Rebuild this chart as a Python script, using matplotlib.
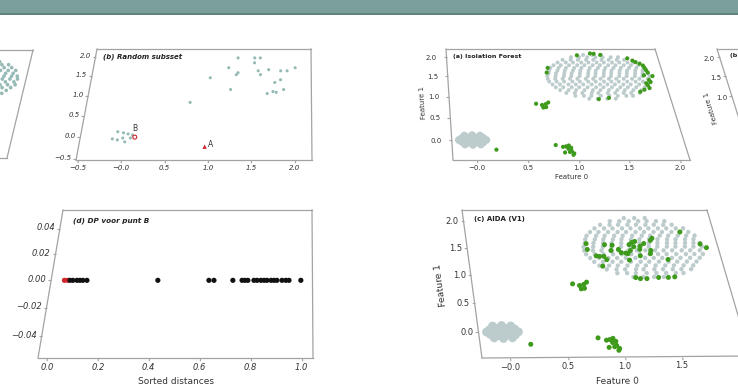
import numpy as np
import matplotlib
matplotlib.use("Agg")
import matplotlib.pyplot as plt
from matplotlib.transforms import Transform
from matplotlib.patches import Rectangle
import mpl_toolkits.axisartist.floating_axes as floating_axes
from mpl_toolkits.axisartist.grid_finder import FixedLocator, DictFormatter

W, H = 738, 392

# ---------------- data ----------------
# large disc of inliers (rows: y value, x values)
disc_rows_y = [0.95, 1.02, 1.09, 1.16, 1.23, 1.30, 1.37, 1.44, 1.51, 1.58,
               1.65, 1.72, 1.79, 1.86, 1.93, 2.00, 2.06]
disc_rows_x = [
    [1.24, 1.33, 1.43, 1.52],
    [1.10, 1.19, 1.27, 1.37, 1.46, 1.55, 1.64, 1.71],
    [1.01, 1.10, 1.18, 1.28, 1.35, 1.45, 1.53, 1.62, 1.70, 1.79],
    [0.95, 1.04, 1.12, 1.21, 1.30, 1.38, 1.47, 1.56, 1.64, 1.73, 1.82],
    [0.91, 0.99, 1.08, 1.16, 1.25, 1.34, 1.42, 1.51, 1.60, 1.68, 1.77, 1.86],
    [0.88, 0.96, 1.05, 1.13, 1.21, 1.30, 1.39, 1.47, 1.55, 1.64, 1.72, 1.81, 1.90],
    [0.85, 0.93, 1.01, 1.10, 1.18, 1.27, 1.35, 1.44, 1.52, 1.60, 1.69, 1.78, 1.86, 1.94],
    [0.84, 0.92, 1.00, 1.08, 1.16, 1.25, 1.33, 1.41, 1.50, 1.58, 1.66, 1.75, 1.83, 1.92],
    [0.84, 0.93, 1.02, 1.10, 1.19, 1.28, 1.36, 1.45, 1.53, 1.62, 1.70, 1.79, 1.87, 1.95],
    [0.86, 0.94, 1.03, 1.11, 1.20, 1.29, 1.37, 1.46, 1.54, 1.63, 1.71, 1.80, 1.88, 1.94],
    [0.87, 0.96, 1.04, 1.13, 1.21, 1.30, 1.38, 1.47, 1.55, 1.64, 1.72, 1.81, 1.89],
    [0.89, 0.98, 1.06, 1.15, 1.23, 1.32, 1.41, 1.49, 1.58, 1.66, 1.75, 1.83, 1.91],
    [0.93, 1.01, 1.10, 1.19, 1.27, 1.36, 1.44, 1.53, 1.61, 1.70, 1.78, 1.86],
    [0.98, 1.07, 1.15, 1.24, 1.32, 1.41, 1.49, 1.58, 1.66, 1.75, 1.82],
    [1.04, 1.13, 1.21, 1.30, 1.38, 1.47, 1.55, 1.64, 1.72],
    [1.14, 1.23, 1.32, 1.41, 1.49, 1.58, 1.66],
    [1.28, 1.38, 1.48],
]
# small dense blob near the origin
blob_x = [-0.03, 0.04, -0.10, 0.00, -0.07, 0.00, -0.07, 0.08, 0.08, -0.14,
          -0.14, 0.11, -0.17, -0.03, -0.03, 0.05, -0.11, 0.05, -0.11]
blob_y = [0.00, 0.00, 0.00, 0.06, 0.06, -0.06, -0.06, 0.05, -0.05, 0.04,
          -0.04, 0.00, 0.00, 0.11, -0.11, 0.10, 0.10, -0.10, -0.10]
# outlier groups
mid_x = [0.67, 0.73, 0.74, 0.77, 0.80, 0.77]
mid_y = [0.83, 0.80, 0.74, 0.75, 0.86, 0.82]
low_x = [0.80, 0.87, 0.90, 0.93, 0.92, 0.95, 0.97, 0.88, 0.93, 0.96, 0.95]
low_y = [-0.11, -0.15, -0.14, -0.12, -0.19, -0.24, -0.29, -0.27, -0.26, -0.32, -0.17]
single_x = [0.20]
single_y = [-0.21]
# (a) Isolation Forest flagged disc points
if_x = [1.21, 1.36, 1.40, 1.47, 0.86, 0.84, 1.76, 1.81, 1.84, 1.88, 1.91, 1.92, 1.93,
        1.94, 1.89, 1.98, 1.93, 1.89, 1.94, 1.90, 1.91, 1.85, 1.80, 1.34, 1.45]
if_y = [2.05, 2.10, 2.09, 2.06, 1.72, 1.60, 1.97, 1.91, 1.87, 1.83, 1.78, 1.72, 1.66,
        1.60, 1.53, 1.51, 1.41, 1.33, 1.36, 1.28, 1.21, 1.17, 1.12, 0.94, 0.97]
# (c) AIDA (V1) flagged disc points
aida_x = [0.87, 0.87, 1.04, 1.11, 0.94, 0.97, 1.01, 1.03, 0.98, 1.09, 1.16, 1.18, 1.22,
          1.27, 1.30, 1.33, 1.31, 1.27, 1.24, 1.24, 1.37, 1.35, 1.41, 1.48, 1.50, 1.46,
          1.45, 1.36, 1.60, 1.78, 1.94, 1.99, 1.26, 1.30, 1.36, 1.47, 1.56, 1.62]
aida_y = [1.57, 1.46, 1.55, 1.54, 1.34, 1.33, 1.33, 1.27, 1.15, 1.44, 1.46, 1.40, 1.39,
          1.55, 1.59, 1.61, 1.51, 1.44, 1.38, 1.26, 1.52, 1.34, 1.57, 1.63, 1.67, 1.44,
          1.38, 1.46, 1.27, 1.79, 1.56, 1.49, 0.94, 0.92, 0.92, 0.94, 0.94, 0.95]
# (b) random subset
sub_hi_x = [1.28, 1.49, 1.56, 1.49, 1.17, 1.54, 1.57, 1.67, 1.82, 1.90, 2.00, 1.29,
            1.27, 0.95, 1.75, 1.82, 1.21, 1.66, 1.73, 1.77, 1.86, 0.73]
sub_hi_y = [1.97, 1.97, 1.97, 1.84, 1.71, 1.63, 1.53, 1.66, 1.63, 1.63, 1.71, 1.58,
            1.53, 1.45, 1.33, 1.40, 1.15, 1.05, 1.10, 1.08, 1.15, 0.83]
sub_lo_x = [-0.09, -0.02, 0.035, 0.09, -0.14, -0.08, -0.02, 0.01, 0.07]
sub_lo_y = [0.125, 0.10, 0.075, 0.05, -0.04, -0.065, -0.02, -0.11, -0.02]
point_b = (0.12, 0.0)
point_a = (0.95, -0.22)
# (d) DP voor punt B
dp_red = [0.02, 0.033]
dp_black = [0.043, 0.055, 0.072, 0.084, 0.096, 0.113, 0.406, 0.617, 0.638, 0.716,
            0.754, 0.766, 0.778, 0.803, 0.816, 0.832, 0.845, 0.857, 0.874, 0.886,
            0.898, 0.919, 0.935, 0.948, 0.997]

feat_ticks = [0.0, 0.5, 1.0, 1.5, 2.0]
feat_xlabels = ["\u22120.0", "0.5", "1.0", "1.5", "2.0"]
feat_ylabels = ["0.0", "0.5", "1.0", "1.5", "2.0"]
sub_ticks = [-0.5, 0.0, 0.5, 1.0, 1.5, 2.0]
sub_xlabels = ["\u22120.5", "\u22120.0", "0.5", "1.0", "1.5", "2.0"]
sub_ylabels = ["\u22120.5", "0.0", "0.5", "1.0", "1.5", "2.0"]
dp_xticks = [0.0, 0.2, 0.4, 0.6, 0.8, 1.0]
dp_xlabels = ["0.0", "0.2", "0.4", "0.6", "0.8", "1.0"]
dp_yticks = [-0.04, -0.02, 0.0, 0.02, 0.04]
dp_ylabels = ["\u22120.04", "\u22120.02", "0.00", "0.02", "0.04"]

disc_x = [x for row in disc_rows_x for x in row]
disc_y = [y for y, row in zip(disc_rows_y, disc_rows_x) for _ in row]

GRAY = "#bccbcc"
TEAL = "#95bab6"
GREEN = "#3d9a1b"
RED = "#d0262b"
FRAME = "#a3a3a3"
TXT = "#333333"


class Homography(Transform):
    input_dims = 2
    output_dims = 2
    has_inverse = True
    is_separable = False

    def __init__(self, m):
        super().__init__()
        self._m = np.asarray(m, float)

    def transform_non_affine(self, values):
        v = np.asarray(values, float).reshape(-1, 2)
        p = np.column_stack([v, np.ones(len(v))]) @ self._m.T
        return p[:, :2] / p[:, 2:3]

    def inverted(self):
        return Homography(np.linalg.inv(self._m))


def fit_homography(src, dst):
    A, b = [], []
    for (x, y), (u, v) in zip(src, dst):
        A.append([x, y, 1, 0, 0, 0, -u * x, -u * y]); b.append(u)
        A.append([0, 0, 0, x, y, 1, -v * x, -v * y]); b.append(v)
    h = np.linalg.solve(np.array(A, float), np.array(b, float))
    return np.append(h, 1.0).reshape(3, 3)


def make_panel(fig, corners, xlim, ylim, xticks, xlabels, yticks, ylabels, fs,
               style="normal", xlabel=None, ylabel=None, lfs=6, xpad=2, ypad=2,
               tpad=1.5):
    (x0, x1), (y0, y1) = xlim, ylim
    tl, tr_, br, bl = corners
    dst = [(p[0], H - p[1]) for p in (bl, br, tr_, tl)]
    src = [(x0, y0), (x1, y0), (x1, y1), (x0, y1)]
    trans = Homography(fit_homography(src, dst))
    gh = floating_axes.GridHelperCurveLinear(
        trans, extremes=(x0, x1, y0, y1),
        grid_locator1=FixedLocator(xticks), grid_locator2=FixedLocator(yticks),
        tick_formatter1=DictFormatter(dict(zip(xticks, xlabels))),
        tick_formatter2=DictFormatter(dict(zip(yticks, ylabels))))
    ax = fig.add_axes([0, 0, 1, 1], axes_class=floating_axes.FloatingAxes,
                      grid_helper=gh)
    ax.set_aspect("auto")
    ax.set_xlim(0, W)
    ax.set_ylim(0, H)
    # edge tilts (display space, y up) used to keep tick labels horizontal
    bl_u, br_u, tl_u = dst[0], dst[1], dst[3]
    tilt_left = np.degrees(np.arctan2(tl_u[1] - bl_u[1], tl_u[0] - bl_u[0])) - 90
    tilt_bottom = np.degrees(np.arctan2(br_u[1] - bl_u[1], br_u[0] - bl_u[0]))
    for side in ("top", "right"):
        ax.axis[side].toggle(ticks=False, ticklabels=False, label=False)
    for side in ("left", "bottom", "top", "right"):
        ax.axis[side].line.set_color(FRAME)
        ax.axis[side].line.set_linewidth(0.9)
    for side, tilt in (("left", tilt_left), ("bottom", tilt_bottom)):
        a = ax.axis[side]
        a.major_ticks.set_tick_out(True)
        a.major_ticks.set_ticksize(2)
        a.major_ticks.set_color(FRAME)
        a.major_ticklabels.set_fontsize(fs)
        a.major_ticklabels.set_fontstyle(style)
        a.major_ticklabels.set_color(TXT)
        a.major_ticklabels.set_pad(tpad if side == "left" else 1.5)
        a.major_ticklabels.set_rotation(a.major_ticklabels.get_rotation() - tilt)
        a.minor_ticks.set_visible(False)
    if xlabel:
        ax.axis["bottom"].label.set_text(xlabel)
        ax.axis["bottom"].label.set_fontsize(lfs)
        ax.axis["bottom"].label.set_color(TXT)
        ax.axis["bottom"].label.set_pad(xpad)
    if ylabel:
        lab = ax.axis["left"].label
        lab.set_text(ylabel)
        lab.set_fontsize(lfs)
        lab.set_color(TXT)
        lab.set_pad(ypad)
    aux = ax.get_aux_axes(trans)
    aux.patch = ax.patch
    ax.patch.zorder = 0.9
    return ax, aux


fig = plt.figure(figsize=(W / 100, H / 100), dpi=100)
fig.patch.set_facecolor("white")

FEAT_X = (-0.24, 2.1)
FEAT_Y = (-0.43, 2.22)

# left partial panel (full dataset, previous slide)
axl, auxl = make_panel(fig, [(-190, 50), (33, 50), (7, 158), (-215, 158)],
                       (-0.31, 2.04), FEAT_Y, [], [], [], [], 5)
auxl.scatter(disc_x, disc_y, s=7, c=TEAL, edgecolors="none")
auxl.scatter(blob_x, blob_y, s=30, c=TEAL, edgecolors="none")

# (b) Random subset
axb, auxb = make_panel(fig, [(97, 49), (311, 49), (312, 160), (76, 160)],
                       (-0.52, 2.2), (-0.52, 2.21), sub_ticks, sub_xlabels,
                       sub_ticks, sub_ylabels, 5, style="italic")
auxb.scatter(sub_hi_x, sub_hi_y, s=5, c=TEAL, edgecolors="none")
auxb.scatter(sub_lo_x, sub_lo_y, s=5, c=TEAL, edgecolors="none")
auxb.scatter([point_b[0]], [point_b[1]], s=8, facecolors="none", edgecolors=RED, linewidths=0.8)
auxb.scatter([point_a[0]], [point_a[1]], s=10, c=RED, marker="^", edgecolors="none")
auxb.text(0.11, 0.2, "B", fontsize=5.5, color=TXT, ha="center", va="center")
auxb.text(0.99, -0.18, "A", fontsize=5.5, color=TXT, ha="left", va="center")
auxb.text(-0.43, 2.0, "(b) Random subsset", fontsize=5, fontweight="bold",
          fontstyle="italic", color="#222222", ha="left", va="center")

# (a) Isolation Forest
axa, auxa = make_panel(fig, [(446, 49), (655, 49), (690, 160), (453, 160)],
                       FEAT_X, FEAT_Y, feat_ticks, feat_xlabels, feat_ticks,
                       feat_ylabels, 5, xlabel="Feature 0", ylabel="Feature 1",
                       lfs=5, xpad=3, ypad=2, tpad=5)
auxa.scatter(disc_x, disc_y, s=8, c=GRAY, edgecolors="none")
auxa.scatter(blob_x, blob_y, s=30, c=GRAY, edgecolors="none")
auxa.scatter(if_x, if_y, s=9, c=GREEN, edgecolors="none")
auxa.scatter(mid_x, mid_y, s=9, c=GREEN, edgecolors="none")
auxa.scatter(low_x, low_y, s=9, c=GREEN, edgecolors="none")
auxa.scatter(single_x, single_y, s=9, c=GREEN, edgecolors="none")
auxa.text(-0.17, 2.03, "(a) Isolation Forest", fontsize=4.6, fontweight="bold",
          color="#222222", ha="left", va="center")

# right partial panel (next slide)
axr, auxr = make_panel(fig, [(717, 49), (922, 49), (989, 160), (752, 160)],
                       FEAT_X, FEAT_Y, feat_ticks, feat_xlabels, feat_ticks,
                       feat_ylabels, 5, ylabel="Feature 1", lfs=5, ypad=3)
auxr.scatter(disc_x, disc_y, s=8, c=GRAY, edgecolors="none")
auxr.scatter(blob_x, blob_y, s=30, c=GRAY, edgecolors="none")
auxr.text(-0.12, 2.03, "(b) AIDA (V2)", fontsize=4.6, fontweight="bold",
          color="#222222", ha="left", va="center")

# (d) DP voor punt B
axd, auxd = make_panel(fig, [(63, 210), (312, 210), (313, 358), (38, 358)],
                       (-0.035, 1.045), (-0.055, 0.055), dp_xticks, dp_xlabels,
                       dp_yticks, dp_ylabels, 6, style="italic",
                       xlabel="Sorted distances", lfs=6.5, xpad=5)
auxd.scatter(dp_red, np.zeros(len(dp_red)), s=14, c=RED, edgecolors="none")
auxd.scatter(dp_black, np.zeros(len(dp_black)), s=14, c="#111111", edgecolors="none")
auxd.text(0.015, 0.046, "(d) DP voor punt B", fontsize=5.2, fontweight="bold",
          fontstyle="italic", color="#222222", ha="left", va="center")

# (c) AIDA (V1)
axc, auxc = make_panel(fig, [(462, 210), (707, 210), (750, 356), (482, 358)],
                       FEAT_X, FEAT_Y, feat_ticks, feat_xlabels, feat_ticks,
                       feat_ylabels, 6, xlabel="Feature 0", ylabel="Feature 1",
                       lfs=6.5, xpad=6, ypad=6)
auxc.scatter(disc_x, disc_y, s=10, c=GRAY, edgecolors="none")
auxc.scatter(blob_x, blob_y, s=40, c=GRAY, edgecolors="none")
auxc.scatter(aida_x, aida_y, s=13, c=GREEN, edgecolors="none")
auxc.scatter(mid_x, mid_y, s=13, c=GREEN, edgecolors="none")
auxc.scatter(low_x, low_y, s=13, c=GREEN, edgecolors="none")
auxc.scatter(single_x, single_y, s=13, c=GREEN, edgecolors="none")
auxc.text(-0.14, 2.04, "(c) AIDA (V1)", fontsize=5, fontweight="bold",
          color="#222222", ha="left", va="center")

# slide banner
fig.add_artist(Rectangle((0, (H - 13) / H), 1, 13 / H, transform=fig.transFigure,
                         facecolor="#7b9f9b", edgecolor="none", zorder=20))
fig.add_artist(Rectangle((0, (H - 14.5) / H), 1, 1.5 / H, transform=fig.transFigure,
                         facecolor="#5f8480", edgecolor="none", zorder=20))

fig.savefig("out.png", dpi=100)
